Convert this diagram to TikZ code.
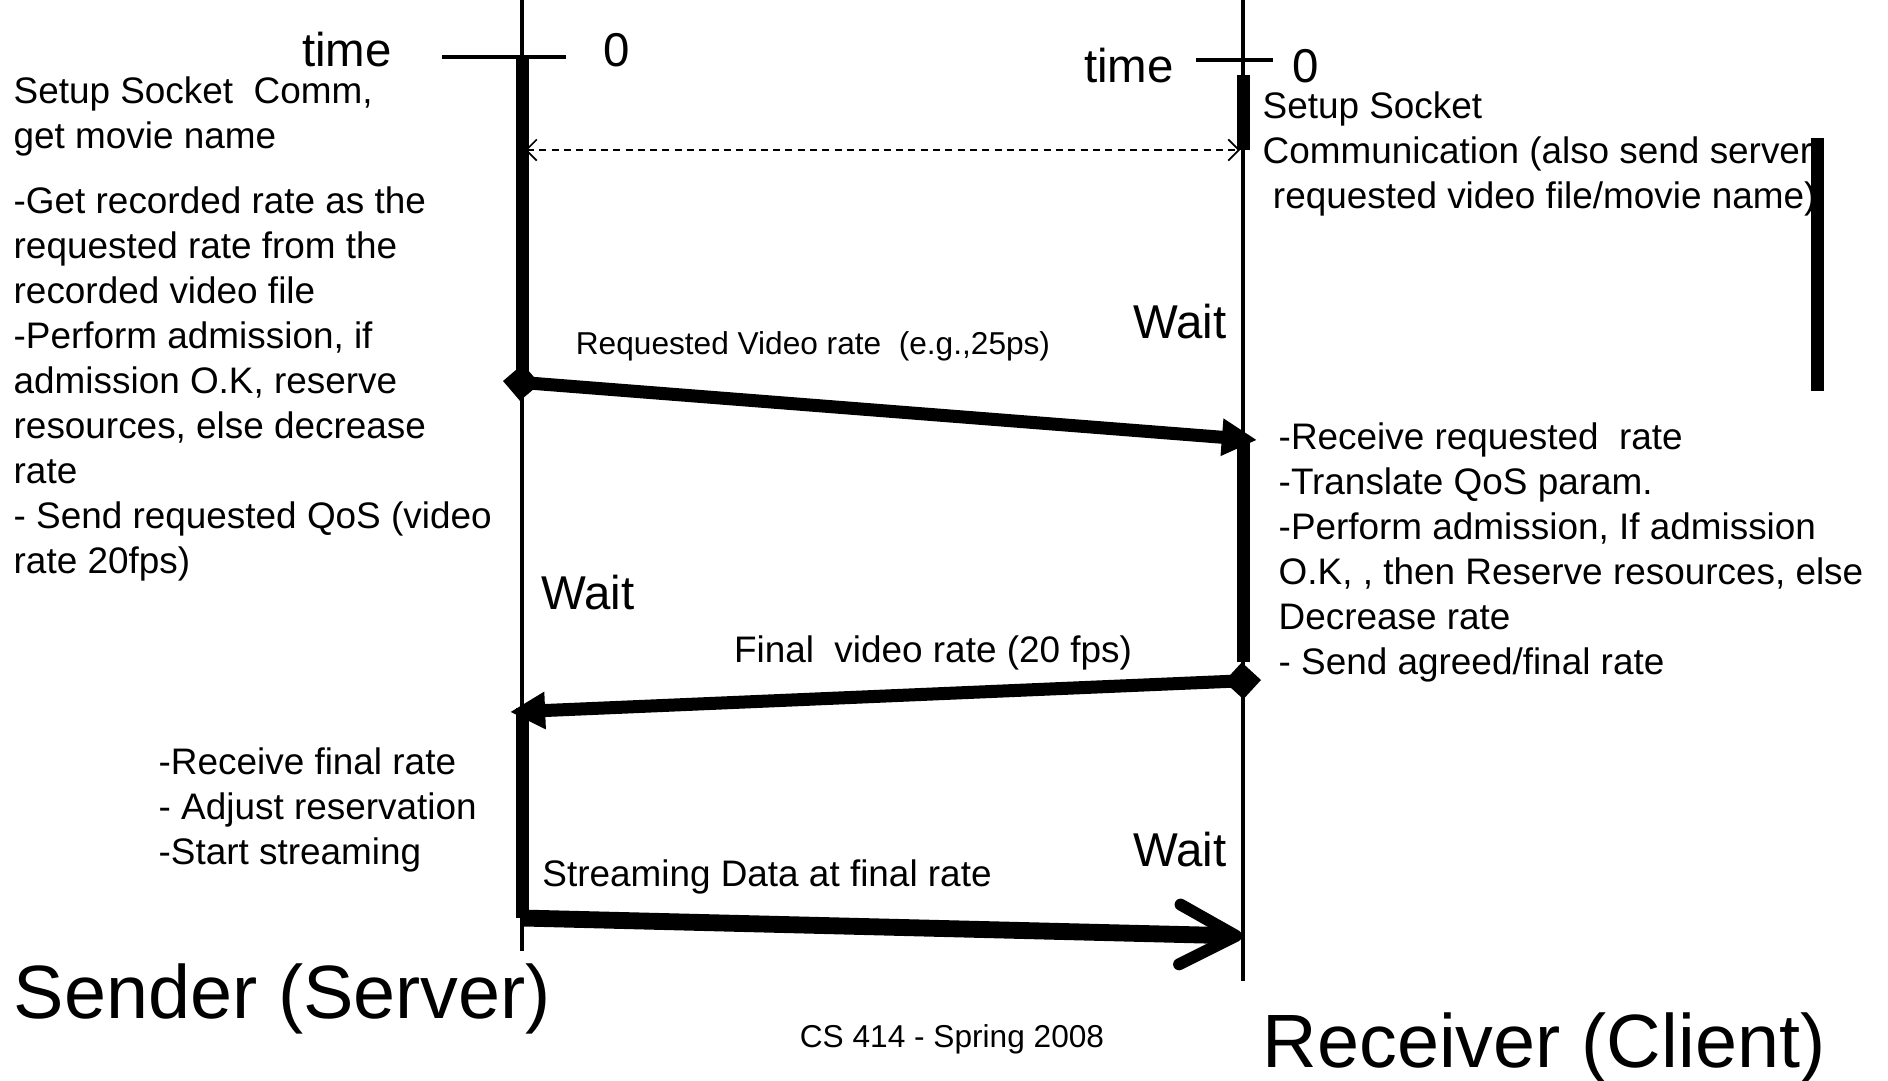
\documentclass[tikz,border=0pt]{standalone}
\usepackage{fontspec}
\setmainfont{Liberation Sans}
\usepackage{tikz}
\usetikzlibrary{arrows.meta}

\begin{document}
\begin{tikzpicture}[x=0.1mm, y=-0.1mm,
      lifeline/.style={line width=0.9pt},
      activebar/.style={line width=3.7pt},
      msg/.style={line width=3.7pt, {Diamond[length=10.5pt,width=10.5pt]}-{Triangle[length=10pt,width=10pt]}},
      stream/.style={line width=4.8pt, -{Straight Barb[length=16pt,width=17pt,round,line width=3.4pt]}},
      sockline/.style={line width=0.5pt, dash pattern=on 2pt off 1.5pt, {Straight Barb[length=3pt,width=6pt]}-{Straight Barb[length=3pt,width=6pt]}},
      txt/.style={font=\fontsize{10.5}{12.8}\selectfont, align=left, inner sep=0pt, anchor=west},
      small/.style={font=\fontsize{9}{11}\selectfont, inner sep=0pt},
      mid/.style={font=\fontsize{10.5}{12.8}\selectfont, inner sep=0pt},
      big/.style={font=\fontsize{13.5}{16}\selectfont, inner sep=0pt},
      huge/.style={font=\fontsize{21.5}{25}\selectfont, inner sep=0pt}
    ]
      \useasboundingbox (0,0) rectangle (1888,1081);

      % lifelines
      \coordinate (sTop) at (522,0);
      \coordinate (sEnd) at (522,951);
      \coordinate (rTop) at (1243,0);
      \coordinate (rEnd) at (1243,981);
      \draw[lifeline] (sTop) -- (sEnd);
      \draw[lifeline] (rTop) -- (rEnd);

      % time axes
      \coordinate (sTickL) at (442,57);
      \coordinate (sTickR) at (566,57);
      \coordinate (rTickL) at (1196,60);
      \coordinate (rTickR) at (1273,60);
      \draw[lifeline] (sTickL) -- (sTickR);
      \draw[lifeline] (rTickL) -- (rTickR);
      \node[big] (sTime) at (347,50) {time};
      \node[big] (sZero) at (617,50) {0};
      \node[big] (rTime) at (1129,66) {time};
      \node[big] (rZero) at (1306,66) {0};

      % busy periods
      \coordinate (sA1) at (522,57);
      \coordinate (sA2) at (522,380);
      \coordinate (sB1) at (522,708);
      \coordinate (sB2) at (522,918);
      \coordinate (rA1) at (1243,75);
      \coordinate (rA2) at (1243,150);
      \coordinate (rB1) at (1243,440);
      \coordinate (rB2) at (1243,662);
      \coordinate (barTop) at (1817,138);
      \coordinate (barBot) at (1817,391);
      \draw[activebar] (sA1) -- (sA2);
      \draw[activebar] (sB1) -- (sB2);
      \draw[activebar] (rA1) -- (rA2);
      \draw[activebar] (rB1) -- (rB2);
      \draw[activebar] (barTop) -- (barBot);

      % socket setup
      \coordinate (sockL) at (525,150);
      \coordinate (sockR) at (1240,150);
      \draw[sockline] (sockL) -- (sockR);

      % messages
      \coordinate (reqFrom) at (503,381);
      \coordinate (reqTo) at (1257,440);
      \coordinate (finFrom) at (1261,680);
      \coordinate (finTo) at (510,712);
      \coordinate (strFrom) at (522,918);
      \coordinate (strTo) at (1242,936);
      \draw[msg] (reqFrom) -- (reqTo);
      \draw[msg] (finFrom) -- (finTo);
      \draw[stream] (strFrom) -- (strTo);
      \node[small] (reqLbl) at (813,346) {Requested Video rate\ \ (e.g.,25ps)};
      \node[mid] (finLbl) at (933,653) {Final\ \ video rate (20 fps)};
      \node[mid] (strLbl) at (767,877) {Streaming Data at final rate};

      % waiting
      \node[big] (wait1) at (1180,322) {Wait};
      \node[big] (wait2) at (588,593) {Wait};
      \node[big] (wait3) at (1180,850) {Wait};

      % sender side notes
      \node[txt] (sSetup) at (13,116) {Setup Socket\ \ Comm,\\get movie name};
      \node[txt] (sAdmit) at (13,384) {-Get recorded rate as the\\requested rate from the\\recorded video file\\-Perform admission, if\\admission O.K, reserve\\resources, else decrease\\rate\\- Send requested QoS (video\\rate 20fps)};
      \node[txt] (sStart) at (158,810) {-Receive final rate\\- Adjust reservation\\-Start streaming};

      % receiver side notes
      \node[txt] (rSetup) at (1262,154) {Setup Socket\\Communication (also send server\\\ requested video file/movie name)};
      \node[txt] (rAdmit) at (1278,552) {-Receive requested\ \ rate\\-Translate QoS param.\\-Perform admission, If admission\\O.K, , then Reserve resources, else\\Decrease rate\\- Send agreed/final rate};

      % names
      \node[huge, anchor=west] (sender) at (13,999) {Sender (Server)};
      \node[huge, anchor=west] (receiver) at (1262,1048) {Receiver (Client)};
      \node[small] (course) at (952,1039) {CS 414 - Spring 2008};
    \end{tikzpicture}
\end{document}
